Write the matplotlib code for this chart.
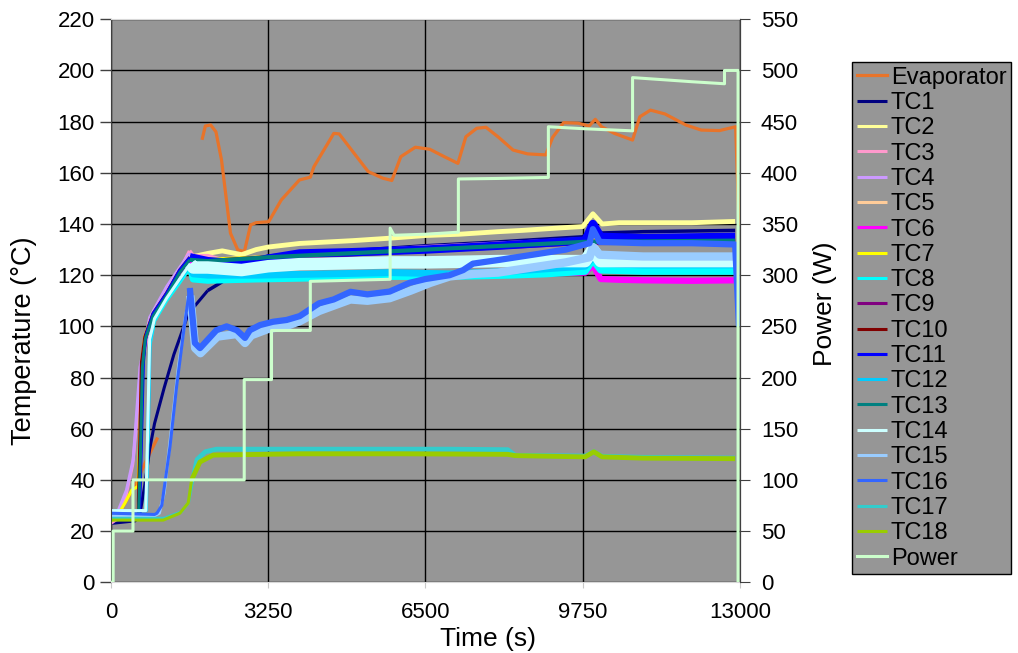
import numpy as np
import matplotlib.pyplot as plt

plt.rcParams['font.family'] = ['Liberation Sans', 'DejaVu Sans']

nan = np.nan

# ---- data: time (s) / temperature (degC) ----
evap_t = [0, 200, 500, 740, 950, nan, 1890, 1950, 2060, 2170, 2285, 2470, 2620, 2757,
          2885, 2995, 3260, 3520, 3895, 4120, 4195, 4605, 4717, 5315, 5620, 5805, 5990,
          6290, 6590, 6890, 7170, 7335, 7560, 7750, 8010, 8310, 8610, 8985, 9130, 9355,
          9655, 9880, 10010, 10140, 10405, 10780, 10930, 11150, 11450, 11880, 12200,
          12575, 12910, 12980]
evap_T = [24, 28, 38, 48, 56, nan, 173.5, 178.3, 178.7, 176, 165, 136.4, 129.9, 129.2,
          139.6, 140.5, 140.9, 149.4, 157.2, 158.3, 162.4, 175.4, 175.2, 160.5, 157.9, 157,
          166.3, 170, 169.2, 166.3, 163.7, 174.1, 177.4, 177.8, 173.9, 168.9, 167.4, 167,
          173.9, 179.6, 179.4, 178.3, 180.9, 178, 175.4, 172.8, 181.9, 184.5, 183, 178.7,
          176.7, 176.5, 178, 140]

tc1_t = [0, 500, 600, 700, 800, 900, 1100, 1300, 1600, 2000, 2350, 2600, 3250, 4500,
         6500, 8000, 9300, 9750, 9960, 10150, 11000, 12900]
tc1_T = [23, 24, 27, 38, 52, 62, 76, 89, 105, 114, 118, 123, 127.5, 129, 131.5, 133,
         134.5, 135, 137.5, 136.5, 137, 137.5]

tc2_t = [0, 560, 600, 640, 700, 870, 1150, 1420, 1640, 2000, 2300, 2700, 3000, 3250,
         3900, 5000, 5800, 6500, 7200, 8000, 8500, 9300, 9750, 9960, 10150, 10500,
         11000, 12000, 12900]
tc2_T = [26, 26.5, 50, 84, 96, 105, 113, 122, 127, 128.5, 129.5, 128, 130, 131, 132.4,
         133.5, 134.5, 135.5, 136, 137, 137.5, 138.5, 139, 144, 140, 140.5, 140.5, 140.5, 141]

tc3_t = [0, 150, 300, 450, 520, 600, 800, 1150, 1420, 1620, 1700, 2000, 2300, 2600,
         3250, 6500, 9750, 12900]
tc3_T = [23, 25, 33, 46, 60, 80, 101, 114, 122, 129.5, 127.5, 127.5, 126, 125.5, 127,
         131, 134, 134]

tc4_t = [0, 80, 150, 320, 460, 530, 600, 800, 1150, 1420, 1620, 1700, 2500, 3250, 6500,
         9750, 12900]
tc4_T = [24, 25, 28, 36, 48, 66, 84, 103.5, 115.5, 123, 128.5, 125, 124.5, 127, 130,
         133.5, 134]

tc5_t = [0, 560, 600, 640, 700, 870, 1150, 1420, 1630, 2000, 3250, 6500, 9750, 12900]
tc5_T = [26, 26.5, 50, 84, 95, 104, 112, 121, 126.5, 126, 127, 130.5, 133, 134]

tc6_t = [0, 570, 610, 650, 710, 870, 1150, 1420, 1630, 1700, 2000, 3250, 6500, 8000,
         9800, 9960, 10120, 10500, 11000, 12000, 12900]
tc6_T = [26, 26.5, 50, 84, 95, 104, 112, 121, 126, 120.5, 120, 120, 120, 120.5, 121,
         124, 118.5, 118.2, 118, 117.8, 118]

tc7_t = [0, 100, 290, 430, 560, 600, 640, 700, 870, 1150, 1420, 1630, 2000, 3250, 6500,
         9750, 12900]
tc7_T = [24, 25, 31, 36, 37.5, 60, 86, 96, 105, 113, 122, 127, 126, 127, 130.5, 133.5, 134]

tc8_t = [0, 720, 760, 800, 900, 1150, 1420, 1640, 1700, 2000, 3000, 4500, 5800, 7000,
         8240, 9000, 9800, 9960, 10120, 11000, 12900]
tc8_T = [28, 28, 55, 92, 102, 110, 117, 123, 118.5, 118, 118.5, 119, 119.5, 119.5, 120,
         120.5, 121.5, 126, 122, 121.5, 121.5]

tc9_t = [0, 570, 610, 650, 710, 870, 1150, 1420, 1630, 2000, 3250, 6500, 9750, 12900]
tc9_T = [26, 26.5, 50, 84, 95, 104, 112, 121, 126, 125, 126.5, 129.5, 132.5, 133]

tc10_t = [0, 560, 590, 630, 700, 870, 1150, 1420, 1630, 2000, 3250, 6500, 9750, 12900]
tc10_T = [25, 26, 50, 86, 96, 105, 113, 122, 127, 125.5, 127, 130, 133, 134]

tc11_t = [0, 590, 630, 670, 730, 870, 1150, 1420, 1630, 2000, 2700, 3250, 3900, 5000,
          6500, 8000, 9300, 9800, 9960, 10120, 11000, 12900]
tc11_T = [26, 26.5, 55, 86, 97, 105, 113, 122, 127, 125.5, 124.5, 126.5, 128.5, 129,
          130, 131.5, 133, 133.5, 140, 135, 134.5, 135]

tc12_t = [0, 730, 770, 810, 900, 1150, 1420, 1640, 1700, 2000, 3000, 4500, 5800, 7000,
          8240, 9000, 9800, 9960, 10120, 11000, 12900]
tc12_T = [28, 28, 58, 94, 103, 111, 118, 124, 120.5, 120, 120, 120.5, 121, 120.5, 121.5,
          122.5, 123.5, 127, 124.5, 124, 124]

tc13_t = [0, 570, 610, 650, 710, 870, 1150, 1420, 1630, 2000, 3250, 6500, 9750, 12900]
tc13_T = [26, 26.5, 50, 84, 95, 104, 112, 121, 126, 125.5, 127, 130, 133, 133.5]

tc14_t = [0, 720, 760, 800, 900, 1150, 1420, 1640, 1700, 2000, 2700, 3250, 3900, 4500,
          5800, 6500, 8000, 9800, 9960, 10120, 12900]
tc14_T = [28, 28, 60, 95, 103, 111, 118.5, 124.5, 123, 123, 122, 123.5, 124.3, 124.5,
          125, 125, 125.5, 125.5, 130, 125.5, 125.5]

tc15_t = [0, 900, 1000, 1100, 1250, 1400, 1550, 1640, 1740, 1850, 2200, 2600, 2770, 2900,
          3250, 3600, 3900, 4300, 4950, 5300, 5760, 6200, 6600, 7000, 7500, 8000, 8700,
          9400, 9890, 9960, 10100, 11000, 12000, 12900]
tc15_T = [26, 26, 27, 35, 60, 85, 105, 112, 91.5, 89.5, 96, 97, 93.5, 96.5, 99, 100, 102,
          106, 110.5, 110, 111, 114, 117, 119.5, 120.5, 121, 123, 125, 127, 131, 128,
          127.3, 127.3, 127.3]

tc16_t = [0, 900, 950, 1050, 1220, 1360, 1530, 1630, 1735, 1840, 2180, 2390, 2600, 2770,
          2870, 3080, 3350, 3630, 3900, 4300, 4600, 4950, 5300, 5760, 6170, 6500, 7000,
          7280, 7480, 8030, 8720, 9400, 9890, 9960, 10100, 11000, 12000, 12900, 12980]
tc16_T = [27, 26.5, 27, 30, 53, 77, 102, 115, 93.5, 91.5, 98.5, 100, 98.5, 95.5, 98.5,
          100.5, 101.8, 102.5, 104, 109, 110.5, 113.5, 112.5, 113.6, 117, 118.5, 120, 122,
          124.5, 126, 128, 130, 132.5, 138, 133, 132.5, 132.5, 132, 100]

tc17_t = [0, 1100, 1450, 1600, 1700, 1780, 1950, 2180, 3000, 5000, 7000, 8200, 8350,
          9800, 9980, 10150, 11000, 12900]
tc17_T = [25, 25, 27.5, 31, 41, 48, 51, 52, 52, 52, 52, 51.8, 49.6, 49.3, 51, 49.2, 48.8,
          48.5]

tc18_t = [0, 1080, 1425, 1597, 1667, 1838, 2113, 3900, 6000, 8200, 8350, 9800, 9980,
          10150, 11000, 12900]
tc18_T = [24.3, 24.3, 27, 31, 40, 47, 49.7, 50.2, 50.2, 50, 49.5, 49, 51, 49, 48.5, 48.3]

# power (W), right axis
power_t = [0, 45, 45, 455, 455, 2754, 2754, 3318, 3318, 4120, 4120, 5770, 5770, 5850,
           6500, 7180, 7180, 8000, 9040, 9040, 9800, 10780, 10780, 11400, 12000, 12680,
           12680, 12960, 12960]
power_W = [0, 0, 50, 50, 100, 100, 198, 198, 246, 246, 294, 296, 346, 339, 340, 342, 394,
           394.5, 395.5, 445, 443, 441, 493, 491, 489, 487, 500, 500, 0]

tc_series = [
    ("TC1", tc1_t, tc1_T, '#000080', 2.5),
    ("TC2", tc2_t, tc2_T, '#ffff99', 3.5),
    ("TC3", tc3_t, tc3_T, '#ff99cc', 3.0),
    ("TC4", tc4_t, tc4_T, '#cc99ff', 3.0),
    ("TC5", tc5_t, tc5_T, '#ffcc99', 3.0),
    ("TC6", tc6_t, tc6_T, '#ff00ff', 4.5),
    ("TC7", tc7_t, tc7_T, '#ffff00', 3.0),
    ("TC8", tc8_t, tc8_T, '#00ffff', 5.0),
    ("TC9", tc9_t, tc9_T, '#800080', 3.0),
    ("TC10", tc10_t, tc10_T, '#800000', 3.0),
    ("TC11", tc11_t, tc11_T, '#0000ff', 6.0),
    ("TC12", tc12_t, tc12_T, '#00ccff', 5.0),
    ("TC13", tc13_t, tc13_T, '#008080', 3.0),
    ("TC14", tc14_t, tc14_T, '#ccffff', 9.0),
    ("TC15", tc15_t, tc15_T, '#99ccff', 6.0),
    ("TC16", tc16_t, tc16_T, '#3366ff', 4.5),
    ("TC17", tc17_t, tc17_T, '#33cccc', 3.5),
    ("TC18", tc18_t, tc18_T, '#99cc00', 3.5),
]

bg = '#969696'

fig = plt.figure(figsize=(10.18, 6.53), dpi=100)
ax = fig.add_axes([0.109, 0.1083, 0.6179, 0.8622])
ax.set_facecolor(bg)

ax.plot(evap_t, evap_T, color='#e8742a', lw=2.3, label="Evaporator")

for name, t, T, col, lw_band in tc_series:
    t = np.array(t, dtype=float)
    T = np.array(T, dtype=float)
    k = int(np.searchsorted(t, 1620))
    ax.plot(t[:k + 1], T[:k + 1], color=col, lw=2.2, label=name, solid_capstyle='butt')
    ax.plot(t[k:], T[k:], color=col, lw=lw_band, solid_capstyle='butt')

ax.set_xlim(0, 13000)
ax.set_ylim(0, 220)
ax.set_xticks([0, 3250, 6500, 9750, 13000])
ax.set_yticks(np.arange(0, 221, 20))
ax.grid(True, color='black', lw=1.0)
ax.set_axisbelow(True)
ax.tick_params(axis='x', labelsize=16, length=4, pad=10, colors='#c8c8c8',
               labelcolor='black')
ax.tick_params(axis='y', labelsize=16, length=8, width=1, colors='#404040',
               labelcolor='black')
for side in ['top', 'bottom']:
    ax.spines[side].set_color('#d8d8d8')
ax.spines['left'].set_color('#404040')
ax.set_xlabel("Time (s)", fontsize=19, va='center')
ax.set_ylabel("Temperature (°C)", fontsize=19.5)
ax.xaxis.set_label_coords((488 - 111) / 629, -(639 - 582.3) / 563)
ax.yaxis.set_label_coords((37 - 111) / 629, (582.3 - 341) / 563)

ax2 = ax.twinx()
ax2.plot(power_t, power_W, color='#ccffcc', lw=2.2, label="Power")
ax2.set_ylim(0, 550)
ax2.set_yticks(np.arange(0, 551, 50))
ax2.tick_params(axis='y', labelsize=16, length=7, pad=8, colors='#404040',
                labelcolor='black')
ax2.spines['right'].set_color('#404040')
ax2.spines['top'].set_visible(False)
ax2.spines['bottom'].set_visible(False)
ax2.spines['left'].set_visible(False)
ax2.set_ylabel("Power (W)", fontsize=19)
ax2.yaxis.set_label_coords((813 - 111) / 629, (582.3 - 304) / 563)

h1, l1 = ax.get_legend_handles_labels()
h2, l2 = ax2.get_legend_handles_labels()
leg = fig.legend(h1 + h2, l1 + l2, loc='upper left',
                 bbox_to_anchor=(852 / 1018, 1 - 62 / 653),
                 fontsize=17, frameon=True, fancybox=False, framealpha=1,
                 facecolor=bg, edgecolor='black', borderpad=0.2,
                 labelspacing=0.14, handlelength=1.3, handletextpad=0.15,
                 borderaxespad=0)
leg.get_frame().set_linewidth(1.0)

fig.savefig("out.png", dpi=100)
